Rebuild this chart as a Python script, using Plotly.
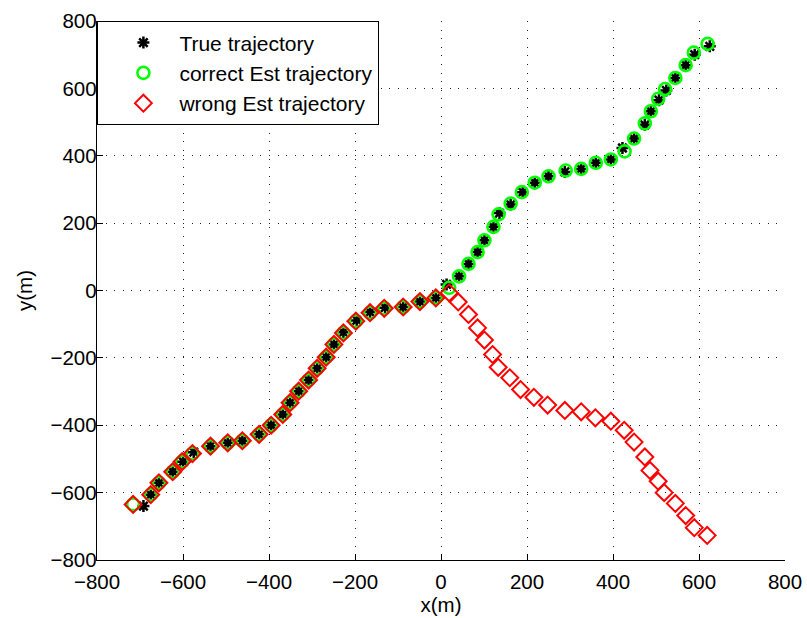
import plotly.graph_objects as go

# True trajectory
true_x = [-692, -675, -656, -624, -600, -575, -536, -496, -462, -423, -395, -368, -351, -331, -308,
          -288, -267, -249, -227, -196, -165, -130, -88, -49, -12, 13,
          42, 64, 85, 101, 122, 136, 162, 190, 218, 250, 288, 326, 360, 395, 422,
          449, 474, 488, 507, 524, 545, 569, 590, 625]
true_y = [-640, -606, -571, -538, -508, -480, -462, -452, -446, -427, -400, -368, -333, -299, -266,
          -231, -198, -160, -124, -89, -64, -51, -49, -33, -22, 18,
          42, 79, 114, 149, 189, 230, 255, 292, 320, 339, 352, 361, 379, 389, 423,
          451, 492, 532, 565, 594, 631, 669, 700, 725]

# Correct estimated trajectory
cor_x = [-716, -675, -656, -624, -602, -578, -536, -496, -462, -423, -395, -368, -351, -331, -308,
         -288, -267, -249, -227, -198, -165, -132, -88, -49, -12, 19,
         42, 64, 85, 101, 122, 134, 162, 188, 218, 250, 290, 326, 360, 395, 427,
         449, 474, 488, 505, 521, 545, 569, 588, 620]
cor_y = [-635, -606, -571, -538, -508, -484, -462, -452, -446, -427, -400, -368, -333, -299, -266,
         -231, -198, -160, -126, -91, -66, -53, -49, -33, -22, 8,
         42, 79, 114, 149, 189, 226, 258, 292, 320, 339, 356, 361, 379, 389, 413,
         451, 496, 532, 569, 598, 631, 669, 706, 732]

# Wrong estimated trajectory
wr_x = [-716, -675, -656, -624, -602, -578, -536, -496, -462, -423, -395, -368, -351, -331, -308,
        -288, -267, -249, -227, -198, -165, -132, -88, -49, -12, 19,
        40, 64, 85, 101, 120, 133, 160, 185, 216, 248, 288, 326, 359, 395, 426,
        449, 474, 486, 505, 519, 545, 569, 589, 619]
wr_y = [-635, -606, -571, -538, -508, -484, -462, -452, -446, -427, -400, -368, -333, -299, -266,
        -231, -198, -160, -126, -91, -66, -53, -49, -33, -22, -7,
        -34, -71, -111, -147, -190, -228, -259, -294, -317, -340, -356, -360, -378, -388, -415,
        -450, -494, -534, -566, -600, -632, -668, -704, -727]

tick_vals = [-800, -600, -400, -200, 0, 200, 400, 600, 800]
tick_text = ["\u2212800", "\u2212600", "\u2212400", "\u2212200", "0", "200", "400", "600", "800"]

FONT = "Liberation Sans, Arial, Helvetica, sans-serif"
FS = 20.5

fig = go.Figure()
fig.add_trace(go.Scatter(
    x=true_x, y=true_y, mode="markers", name="True trajectory",
    marker=dict(symbol="asterisk", size=10, color="black", line=dict(color="black", width=2.5))))
fig.add_trace(go.Scatter(
    x=cor_x, y=cor_y, mode="markers", name="correct Est trajectory",
    marker=dict(symbol="circle-open", size=12, color="#00ff00", line=dict(color="#00ff00", width=2.6))))
fig.add_trace(go.Scatter(
    x=wr_x, y=wr_y, mode="markers", name="wrong Est trajectory",
    marker=dict(symbol="diamond-open", size=13, color="#ff0000", line=dict(color="#ff0000", width=2))))

axis_common = dict(
    range=[-800, 800], tickvals=tick_vals, ticktext=tick_text,
    showgrid=True, gridcolor="#222222", griddash="1px,7.6px", gridwidth=1,
    zeroline=False, showline=True, linecolor="black", linewidth=1.4,
    ticks="inside", ticklen=6, tickcolor="black", mirror=False,
    tickfont=dict(family=FONT, size=FS, color="black"),
    automargin=False,
)

fig.update_layout(
    width=807, height=618,
    margin=dict(l=97, r=22, t=21, b=58),
    paper_bgcolor="white", plot_bgcolor="white",
    font=dict(family=FONT, size=FS, color="black"),
    xaxis=dict(**axis_common, ticklabelstandoff=3,
               title=dict(text="x(m)", font=dict(size=FS), standoff=4)),
    yaxis=dict(**axis_common, ticklabelstandoff=-5,
               title=dict(text="y(m)", font=dict(size=FS), standoff=12)),
    legend=dict(x=0, y=1, xanchor="left", yanchor="top",
                bgcolor="white", bordercolor="black", borderwidth=1.4,
                font=dict(family=FONT, size=21), indentation=9, itemwidth=62),
    showlegend=True,
)

fig.write_html("out.html", config={"displayModeBar": False},
               post_script="document.body.style.margin='0';")
